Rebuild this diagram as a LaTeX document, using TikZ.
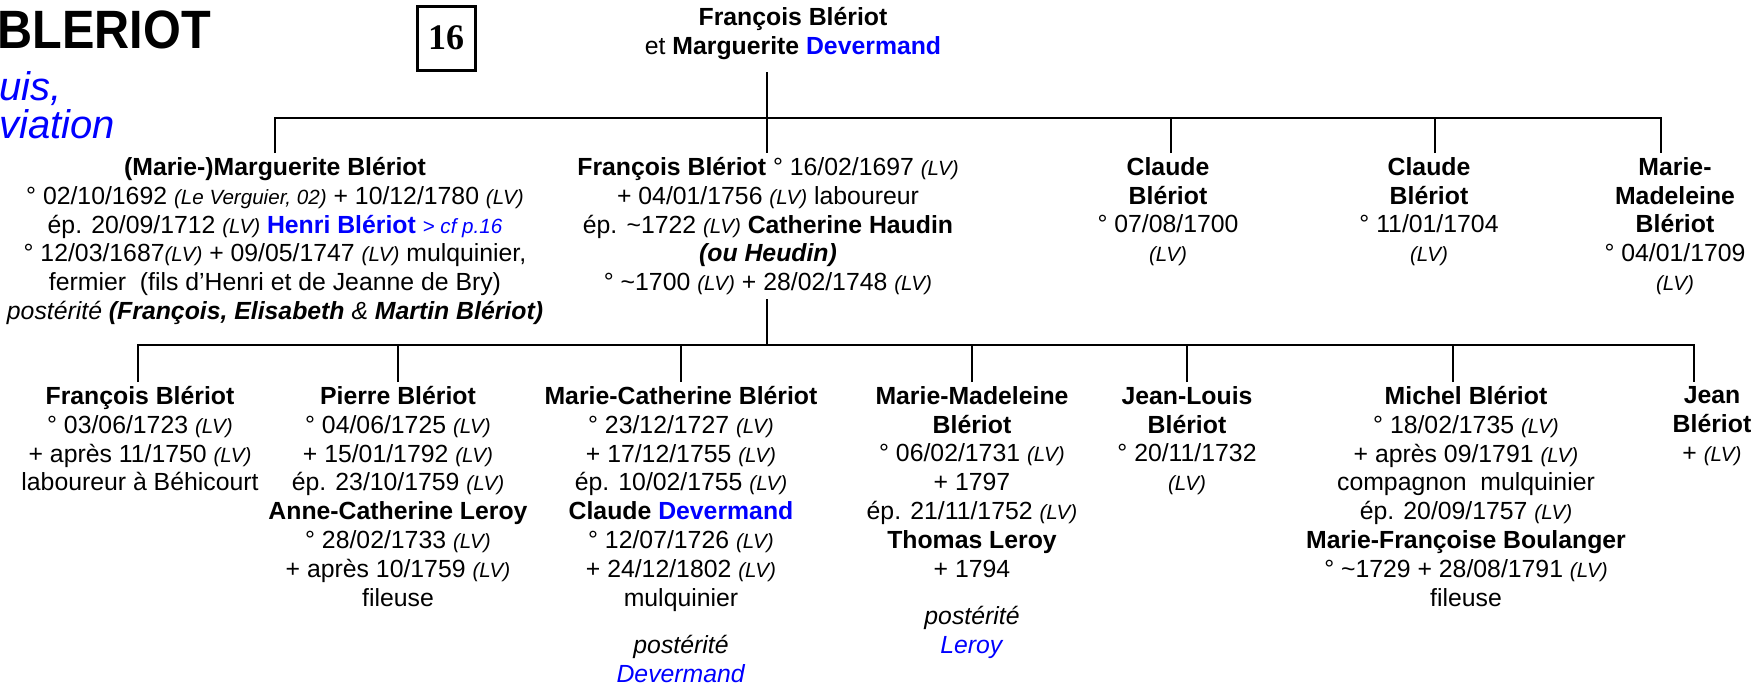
\documentclass[tikz,border=0pt]{standalone}
\usepackage{fontspec}
\setmainfont{Liberation Sans}
\newfontfamily\serifnum{Liberation Serif}
\newfontfamily\titre{Liberation Sans}[FakeStretch=0.9]
\newcommand{\petit}{\fontsize{10.3}{14.4}\selectfont\itshape}
\newcommand{\lv}{{\petit (LV)}}
\tikzset{
  pers/.style={align=center, anchor=north, inner sep=2pt, font=\fontsize{12.4}{14.4}\selectfont},
  lien/.style={line width=1.1pt}
}

\begin{document}
\begin{tikzpicture}[x=0.5pt,y=-0.5pt]
\useasboundingbox (0,0) rectangle (1757,686);
\node[anchor=base west, inner sep=0, font=\titre\bfseries\fontsize{27}{30}\selectfont] (titre) at (-3,48) {BLERIOT};
\node[anchor=base west, inner sep=0, text=blue, font=\fontsize{20}{24}\selectfont\itshape] (sous1) at (-1,100) {uis,};
\node[anchor=base west, inner sep=0, text=blue, font=\fontsize{20}{24}\selectfont\itshape] (sous2) at (-1,138) {viation};
\node[draw, line width=1.5pt, minimum width=29pt, minimum height=32pt, inner sep=0, font=\serifnum\bfseries\fontsize{18}{20}\selectfont] (page) at (446,38) {16};

\node[pers] (par) at (793,3) {\textbf{François Blériot}\\et \textbf{Marguerite \textcolor{blue}{Devermand}}};

\node[pers] (mg) at (275,153) {\textbf{(Marie-)Marguerite Blériot}\\
° 02/10/1692 {\petit (Le Verguier, 02)} + 10/12/1780 \lv\\
ép. 20/09/1712 \lv{} \textcolor{blue}{\textbf{Henri Blériot} {\petit > cf p.16}}\\
° 12/03/1687\lv{} + 09/05/1747 \lv{} mulquinier,\\
fermier\ \ (fils d’Henri et de Jeanne de Bry)\\
\textit{postérité \textbf{(François, Elisabeth} \& \textbf{Martin Blériot)}}};
\node[pers] (fb) at (768,153) {\textbf{François Blériot} ° 16/02/1697 \lv\\
+ 04/01/1756 \lv{} laboureur\\
ép. \textasciitilde1722 \lv{} \textbf{Catherine Haudin}\\
\textbf{\textit{(ou Heudin)}}\\
° \textasciitilde1700 \lv{} + 28/02/1748 \lv};
\node[pers] (cl1) at (1168,153) {\textbf{Claude}\\\textbf{Blériot}\\° 07/08/1700\\\lv};
\node[pers] (cl2) at (1429,153) {\textbf{Claude}\\\textbf{Blériot}\\° 11/01/1704\\\lv};
\node[pers] (md) at (1675,153) {\textbf{Marie-}\\\textbf{Madeleine}\\\textbf{Blériot}\\° 04/01/1709\\\lv};

\node[pers] (fr) at (140,382) {\textbf{François Blériot}\\° 03/06/1723 \lv\\+ après 11/1750 \lv\\laboureur à Béhicourt};
\node[pers] (pi) at (398,382) {\textbf{Pierre Blériot}\\° 04/06/1725 \lv\\+ 15/01/1792 \lv\\ép. 23/10/1759 \lv\\
\textbf{Anne-Catherine Leroy}\\° 28/02/1733 \lv\\+ après 10/1759 \lv\\fileuse};
\node[pers] (mc) at (681,382) {\textbf{Marie-Catherine Blériot}\\° 23/12/1727 \lv\\+ 17/12/1755 \lv\\ép. 10/02/1755 \lv\\
\textbf{Claude \textcolor{blue}{Devermand}}\\° 12/07/1726 \lv\\+ 24/12/1802 \lv\\mulquinier\\[9.5pt]
\textit{postérité}\\\textcolor{blue}{\textit{Devermand}}};
\node[pers] (mm) at (972,382) {\textbf{Marie-Madeleine}\\\textbf{Blériot}\\° 06/02/1731 \lv\\+ 1797\\ép. 21/11/1752 \lv\\
\textbf{Thomas Leroy}\\+ 1794\\[9.5pt]\textit{postérité}\\\textcolor{blue}{\textit{Leroy}}};
\node[pers] (jl) at (1187,382) {\textbf{Jean-Louis}\\\textbf{Blériot}\\° 20/11/1732\\\lv};
\node[pers] (mi) at (1466,382) {\textbf{Michel Blériot}\\° 18/02/1735 \lv\\+ après 09/1791 \lv\\compagnon\ \ mulquinier\\
ép. 20/09/1757 \lv\\\textbf{Marie-Françoise Boulanger}\\° \textasciitilde1729 + 28/08/1791 \lv\\fileuse};
\node[pers] (je) at (1712,382) {\textbf{Jean}\\\textbf{Blériot}\\+ \lv};

\coordinate (barh) at (0,118);
\coordinate (barb) at (0,345);
\draw[lien] ([xshift=-0.5pt]fb.north |- par.south) ++(0,8) -- ([xshift=-0.5pt]fb.north);
\draw[lien] (mg.north) |- ([xshift=-7pt]md.north |- barh) -- ([xshift=-7pt]md.north);
\draw[lien] ([xshift=1.5pt]cl1.north) -- ([xshift=1.5pt]cl1.north |- barh);
\draw[lien] ([xshift=3pt]cl2.north) -- ([xshift=3pt]cl2.north |- barh);
\draw[lien] ([xshift=-0.5pt]fb.south) -- ([xshift=-0.5pt]fb.south |- barb);
\draw[lien] ([xshift=-1pt]fr.north) |- ([xshift=-9pt]je.north |- barb) -- ([xshift=-9pt]je.north);
\foreach \n in {pi,mc,mm,jl} \draw[lien] (\n.north) -- (\n.north |- barb);
\draw[lien] ([xshift=-6.5pt]mi.north) -- ([xshift=-6.5pt]mi.north |- barb);
\end{tikzpicture}
\end{document}
